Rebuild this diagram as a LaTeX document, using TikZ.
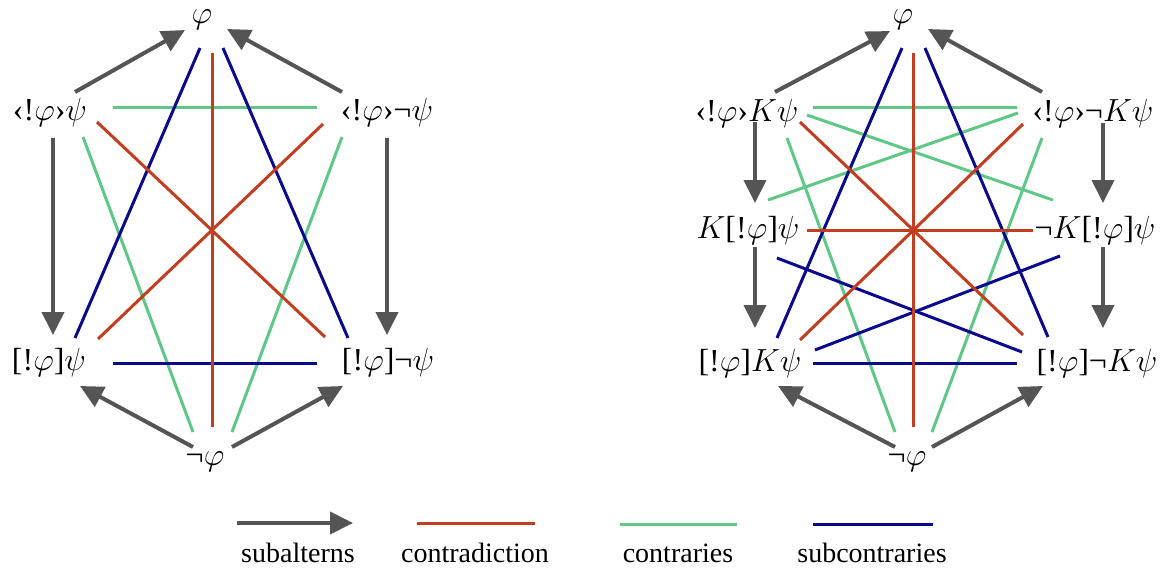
\RequirePackage{fix-cm}
\documentclass[tikz,border=0pt]{standalone}
\usepackage{fontspec}
\setmainfont{Liberation Serif}
\usepackage{tikz}
\usetikzlibrary{arrows.meta,calc}
\definecolor{subalt}{RGB}{85,85,85}
\definecolor{contradict}{RGB}{195,62,32}
\definecolor{contrary}{RGB}{95,200,135}
\definecolor{subcontrary}{RGB}{10,10,140}

\begin{document}
\begin{tikzpicture}[x=1pt,y=-1pt,
    lbl/.style={inner sep=0pt,font=\fontsize{32}{34}\selectfont},
    legtext/.style={inner sep=0pt,font=\fontsize{28}{30}\selectfont},
    sub/.style={subalt,line width=4pt,-{Triangle[length=23pt,width=22pt]}},
    cd/.style={contradict,line width=3pt},
    ct/.style={contrary,line width=3pt},
    sc/.style={subcontrary,line width=3pt}]
    \useasboundingbox (0,0) rectangle (1163,570);

    % Left square: labels
    \node[lbl] (Ltop) at (202,20) {$\varphi$};
    \node[lbl] (Lpl) at (50,112) {‹!$\varphi$›$\psi$};
    \node[lbl] (Lpr) at (387,112) {‹!$\varphi$›¬$\psi$};
    \node[lbl] (Lbl) at (49,362) {[!$\varphi$]$\psi$};
    \node[lbl] (Lbr) at (388,362) {[!$\varphi$]¬$\psi$};
    \node[lbl] (Lbot) at (205,462) {¬$\varphi$};

    % Left square: end points
    \coordinate (la1) at (75,92);   \coordinate (la2) at (185,30);
    \coordinate (la3) at (342,92);  \coordinate (la4) at (227,29);
    \coordinate (la5) at (53,138);  \coordinate (la6) at (53,335);
    \coordinate (la7) at (387,138); \coordinate (la8) at (387,335);
    \coordinate (la9) at (193,447); \coordinate (la10) at (80,386);
    \coordinate (la11) at (232,447); \coordinate (la12) at (343,386);
    \coordinate (lr1) at (212,53);  \coordinate (lr2) at (212,427);
    \coordinate (lr3) at (97,122);  \coordinate (lr4) at (325,337);
    \coordinate (lr5) at (323,124); \coordinate (lr6) at (98,339);
    \coordinate (lg1) at (113,107); \coordinate (lg2) at (317,107);
    \coordinate (lg3) at (83,137);  \coordinate (lg4) at (193,432);
    \coordinate (lg5) at (342,137); \coordinate (lg6) at (232,432);
    \coordinate (lb1) at (200,48);  \coordinate (lb2) at (75,338);
    \coordinate (lb3) at (223,48);  \coordinate (lb4) at (348,338);
    \coordinate (lb5) at (113,363); \coordinate (lb6) at (317,363);

    % Left square: relations
    \draw[ct] (lg1) -- (lg2);
    \draw[ct] (lg3) -- (lg4);
    \draw[ct] (lg5) -- (lg6);
    \draw[sc] (lb1) -- (lb2);
    \draw[sc] (lb3) -- (lb4);
    \draw[sc] (lb5) -- (lb6);
    \draw[cd] (lr1) -- (lr2);
    \draw[cd] (lr3) -- (lr4);
    \draw[cd] (lr5) -- (lr6);
    \draw[sub] (la1) -- (la2);
    \draw[sub] (la3) -- (la4);
    \draw[sub] (la5) -- (la6);
    \draw[sub] (la7) -- (la8);
    \draw[sub] (la9) -- (la10);
    \draw[sub] (la11) -- (la12);

    % Right hexagon: labels
    \node[lbl] (Rtop) at (903,20) {$\varphi$};
    \node[lbl] (Rpl) at (747,113) {‹!$\varphi$›$K\psi$};
    \node[lbl] (Rpr) at (1093,113) {‹!$\varphi$›¬$K\psi$};
    \node[lbl] (Rml) at (748,230) {$K$[!$\varphi$]$\psi$};
    \node[lbl] (Rmr) at (1095,230) {¬$K$[!$\varphi$]$\psi$};
    \node[lbl] (Rbl) at (750,363) {[!$\varphi$]$K\psi$};
    \node[lbl] (Rbr) at (1097,363) {[!$\varphi$]¬$K\psi$};
    \node[lbl] (Rbot) at (907,462) {¬$\varphi$};

    % Right hexagon: end points
    \coordinate (ra1) at (775,92);   \coordinate (ra2) at (890,31);
    \coordinate (ra3) at (1042,92);  \coordinate (ra4) at (928,29);
    \coordinate (ra5) at (755,122);  \coordinate (ra6) at (755,203);
    \coordinate (ra7) at (755,247);  \coordinate (ra8) at (755,328);
    \coordinate (ra9) at (1103,123); \coordinate (ra10) at (1103,203);
    \coordinate (ra11) at (1103,247); \coordinate (ra12) at (1103,328);
    \coordinate (ra13) at (895,447); \coordinate (ra14) at (778,386);
    \coordinate (ra15) at (932,447); \coordinate (ra16) at (1043,386);
    \coordinate (rr1) at (913,53);   \coordinate (rr2) at (913,427);
    \coordinate (rr3) at (800,122);  \coordinate (rr4) at (1023,335);
    \coordinate (rr5) at (1023,124); \coordinate (rr6) at (800,340);
    \coordinate (rr7) at (807,230);  \coordinate (rr8) at (1033,230);
    \coordinate (rg1) at (813,107);  \coordinate (rg2) at (1017,107);
    \coordinate (rg3) at (807,115);  \coordinate (rg4) at (1053,200);
    \coordinate (rg5) at (1018,113); \coordinate (rg6) at (768,200);
    \coordinate (rg7) at (787,138);  \coordinate (rg8) at (895,432);
    \coordinate (rg9) at (1042,138); \coordinate (rg10) at (932,432);
    \coordinate (rb1) at (902,48);   \coordinate (rb2) at (777,338);
    \coordinate (rb3) at (925,48);   \coordinate (rb4) at (1048,337);
    \coordinate (rb5) at (813,363);  \coordinate (rb6) at (1017,363);
    \coordinate (rb7) at (777,258);  \coordinate (rb8) at (1022,352);
    \coordinate (rb9) at (1060,256); \coordinate (rb10) at (815,350);

    % Right hexagon: relations
    \draw[ct] (rg1) -- (rg2);
    \draw[ct] (rg3) -- (rg4);
    \draw[ct] (rg5) -- (rg6);
    \draw[ct] (rg7) -- (rg8);
    \draw[ct] (rg9) -- (rg10);
    \draw[sc] (rb1) -- (rb2);
    \draw[sc] (rb3) -- (rb4);
    \draw[sc] (rb5) -- (rb6);
    \draw[sc] (rb7) -- (rb8);
    \draw[sc] (rb9) -- (rb10);
    \draw[cd] (rr1) -- (rr2);
    \draw[cd] (rr3) -- (rr4);
    \draw[cd] (rr5) -- (rr6);
    \draw[cd] (rr7) -- (rr8);
    \draw[sub] (ra1) -- (ra2);
    \draw[sub] (ra3) -- (ra4);
    \draw[sub] (ra5) -- (ra6);
    \draw[sub] (ra7) -- (ra8);
    \draw[sub] (ra9) -- (ra10);
    \draw[sub] (ra11) -- (ra12);
    \draw[sub] (ra13) -- (ra14);
    \draw[sub] (ra15) -- (ra16);

    % Legend
    \coordinate (k1) at (237,523); \coordinate (k2) at (353,523);
    \coordinate (k3) at (417,523); \coordinate (k4) at (535,523);
    \coordinate (k5) at (620,524); \coordinate (k6) at (737,524);
    \coordinate (k7) at (813,524); \coordinate (k8) at (933,524);
    \draw[sub] (k1) -- (k2);
    \draw[cd] (k3) -- (k4);
    \draw[ct] (k5) -- (k6);
    \draw[sc] (k7) -- (k8);
    \node[legtext] (tsub) at (298,553) {subalterns};
    \node[legtext] (tcd) at (475,553) {contradiction};
    \node[legtext] (tct) at (678,553) {contraries};
    \node[legtext] (tsc) at (872,553) {subcontraries};
\end{tikzpicture}
\end{document}
